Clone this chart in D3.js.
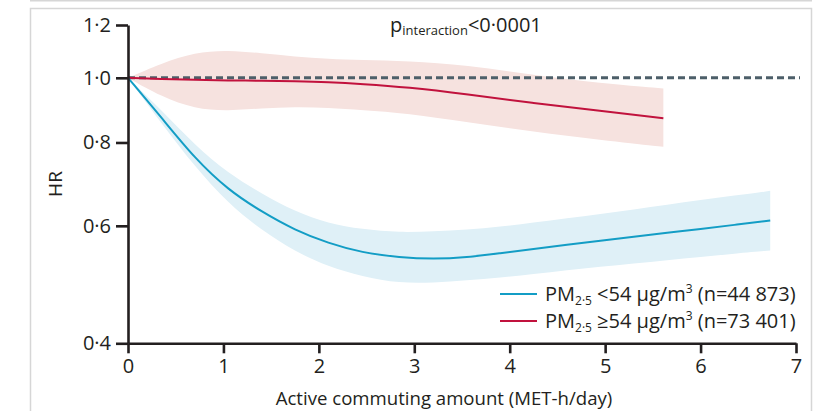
<!DOCTYPE html>
<html>
<head>
<meta charset="utf-8">
<script src="https://cdn.jsdelivr.net/npm/d3@7"></script>
<style>
  body { margin: 0; background: #fff; }
  svg text { font-family: "Open Sans", "Noto Sans", sans-serif; fill: #231f20; }
</style>
</head>
<body>
<div id="chart"></div>
<script>
// values
var xTicks = [0, 1, 2, 3, 4, 5, 6, 7];
var yTicks = [0.4, 0.6, 0.8, 1.0, 1.2];

// PM2.5 < 54 (blue)
var lowX     = [0, 0.35, 0.7, 1.05, 1.4, 1.75, 2.1, 2.45, 2.85, 3.2, 3.55, 3.9, 4.25, 4.6, 4.95, 5.3, 5.65, 6.0, 6.35, 6.73];
var lowHR    = [1.0, 0.872, 0.757, 0.679, 0.630, 0.591, 0.565, 0.547, 0.538, 0.535, 0.538, 0.546, 0.554, 0.562, 0.570, 0.578, 0.586, 0.593, 0.602, 0.611];
var lowUpper = [1.0, 0.895, 0.793, 0.719, 0.671, 0.630, 0.605, 0.593, 0.586, 0.589, 0.592, 0.598, 0.607, 0.616, 0.625, 0.635, 0.645, 0.656, 0.666, 0.677];
var lowLower = [1.0, 0.855, 0.736, 0.648, 0.591, 0.549, 0.521, 0.504, 0.492, 0.493, 0.497, 0.502, 0.508, 0.515, 0.521, 0.527, 0.533, 0.539, 0.545, 0.551];

// PM2.5 >= 54 (red)
var highX     = [0, 0.35, 0.7, 1.05, 1.4, 1.75, 2.1, 2.45, 2.93, 3.55, 4.25, 4.95, 5.61];
var highHR    = [1.0, 0.996, 0.993, 0.991, 0.990, 0.988, 0.985, 0.979, 0.968, 0.945, 0.916, 0.892, 0.870];
var highUpper = [1.0, 1.051, 1.092, 1.101, 1.088, 1.076, 1.067, 1.063, 1.060, 1.045, 1.010, 0.981, 0.964];
var highLower = [1.0, 0.937, 0.898, 0.892, 0.900, 0.905, 0.902, 0.895, 0.885, 0.858, 0.830, 0.807, 0.788];

var svgWidth = 836;
var svgHeight = 411;

var svg = d3.select("#chart")
  .append("svg")
  .attr("width", svgWidth)
  .attr("height", svgHeight);

// panel frame
svg.append("line")
  .attr("x1", 30).attr("x2", 812).attr("y1", 0.5).attr("y2", 0.5)
  .attr("stroke", "#d6d6d6").attr("stroke-width", 2);
svg.append("rect")
  .attr("x", 30.5).attr("y", 8.5).attr("width", 781).attr("height", 420)
  .attr("fill", "none").attr("stroke", "#d6d6d6").attr("stroke-width", 1.5);

var x = d3.scaleLinear().domain([0, 7]).range([128, 796]);
var y = d3.scaleLog().domain([0.4, 1.2]).range([343.3, 25]);

var dot = d => d3.format(".1f")(d).replace(".", "·");

function rows(xs, mid, up, lo) {
  return xs.map((v, i) => ({x: v, hr: mid[i], up: up[i], lo: lo[i]}));
}
var lowData = rows(lowX, lowHR, lowUpper, lowLower);
var highData = rows(highX, highHR, highUpper, highLower);

var band = d3.area()
  .x(d => x(d.x))
  .y0(d => y(d.lo))
  .y1(d => y(d.up))
  .curve(d3.curveBasis);

var line = d3.line()
  .x(d => x(d.x))
  .y(d => y(d.hr))
  .curve(d3.curveBasis);

svg.append("path").datum(highData).attr("d", band).attr("fill", "#f6e2df");
svg.append("path").datum(lowData).attr("d", band).attr("fill", "#dff0f7");

// reference line at HR = 1
svg.append("line")
  .attr("x1", x(0)).attr("x2", x(7) + 4)
  .attr("y1", y(1)).attr("y2", y(1))
  .attr("stroke", "#4d5f69")
  .attr("stroke-width", 3)
  .attr("stroke-dasharray", "7,4");

svg.append("path").datum(highData).attr("d", line)
  .attr("fill", "none").attr("stroke", "#c1123d").attr("stroke-width", 2);
svg.append("path").datum(lowData).attr("d", line)
  .attr("fill", "none").attr("stroke", "#139dc5").attr("stroke-width", 2);

// axes
var leftAxis = d3.axisLeft(y)
  .tickValues(yTicks)
  .tickFormat(dot)
  .tickSize(12)
  .tickSizeOuter(0)
  .tickPadding(5);

var bottomAxis = d3.axisBottom(x)
  .tickValues(xTicks)
  .tickFormat(d3.format("d"))
  .tickSize(10)
  .tickSizeOuter(0)
  .tickPadding(6);

var gy = svg.append("g")
  .attr("transform", `translate(${x(0)},0)`)
  .call(leftAxis);

var gx = svg.append("g")
  .attr("transform", `translate(0,${y(0.4)})`)
  .call(bottomAxis);

[gy, gx].forEach(function(g) {
  g.attr("font-size", null);
  g.select(".domain").attr("stroke", "#231f20").attr("stroke-width", 2.6);
  g.selectAll(".tick line").attr("stroke", "#231f20").attr("stroke-width", 2.6);
  g.selectAll(".tick text")
    .style("font-size", "20px")
    .style("fill", "#231f20")
    .style("font-family", "\"Open Sans\", sans-serif");
});

// axis titles
svg.append("text")
  .attr("transform", "translate(62,184) rotate(-90)")
  .attr("text-anchor", "middle")
  .style("font-size", "19px")
  .text("HR");

svg.append("text")
  .attr("x", 444)
  .attr("y", 405)
  .attr("text-anchor", "middle")
  .style("font-size", "18.6px")
  .text("Active commuting amount (MET-h/day)");

// interaction p-value
var pText = svg.append("text")
  .attr("x", 390)
  .attr("y", 32)
  .style("font-size", "20px");
pText.append("tspan").text("p");
pText.append("tspan").style("font-size", "13px").attr("dy", 3).text("interaction");
pText.append("tspan").attr("dy", -3).text("<0·0001");

// legend
var legendItems = [
  {color: "#139dc5", rest: " <54 µg/m", n: " (n=44 873)"},
  {color: "#c1123d", rest: " ≥54 µg/m", n: " (n=73 401)"}
];

legendItems.forEach(function(item, i) {
  var yy = 294 + i * 27;
  svg.append("line")
    .attr("x1", 500).attr("x2", 537)
    .attr("y1", yy).attr("y2", yy)
    .attr("stroke", item.color).attr("stroke-width", 2);
  var t = svg.append("text")
    .attr("x", 545)
    .attr("y", yy + 7)
    .style("font-size", "20px");
  t.append("tspan").text("PM");
  t.append("tspan").style("font-size", "12px").attr("dy", 4).text("2·5");
  t.append("tspan").attr("dy", -4).text(item.rest);
  t.append("tspan").style("font-size", "12px").attr("dy", -8).text("3");
  t.append("tspan").attr("dy", 8).text(item.n);
});
</script>
</body>
</html>
